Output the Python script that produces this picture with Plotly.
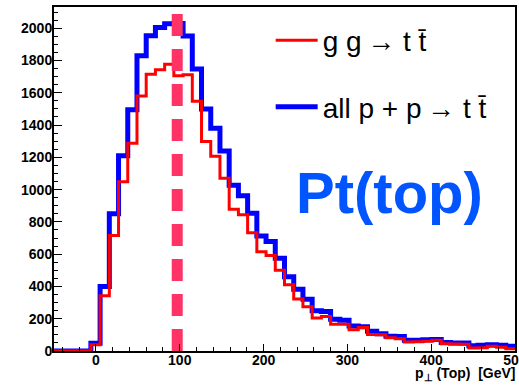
import numpy as np
import plotly.graph_objects as go

# 50 bins of 11 GeV from -50 to 500 GeV
bin_edges = np.linspace(-50, 500, 51)

# top-quark transverse momentum spectra (events per bin)
all_pp = [0, 0, 0, 0, 48, 400, 850, 1210, 1495, 1830,
          1953, 2005, 2027, 2030, 1952, 1748, 1500, 1380, 1240, 1027,
          962, 853, 712, 678, 575, 460, 383, 320, 250, 245,
          196, 190, 155, 150, 122, 107, 92, 90, 66, 66,
          70, 72, 53, 50, 50, 33, 35, 39, 36, 29]
gg_only = [0, 0, 0, 0, 38, 342, 715, 1048, 1288, 1580,
           1715, 1742, 1777, 1705, 1711, 1547, 1298, 1207, 1070, 878,
           844, 733, 615, 592, 500, 410, 322, 274, 205, 214,
           166, 166, 131, 145, 103, 100, 82, 76, 56, 58,
           60, 66, 45, 43, 42, 19, 20, 29, 23, 14]

marker_pt = 97          # GeV, vertical reference line
y_max = 1.05 * max(all_pp)

label_gg = "g g\u2009\u2192 t t\u0304"
label_all = "all p + p\u2009\u2192 t t\u0304"


def step_xy(values):
    return list(bin_edges), list(values) + [values[-1]]


fig = go.Figure()

x_b, y_b = step_xy(all_pp)
fig.add_trace(go.Scatter(x=x_b, y=y_b, mode="lines", line_shape="hv",
                         line=dict(color="#0000ff", width=5),
                         name=label_all, legendgroup="b", legendrank=2))
x_r, y_r = step_xy(gg_only)
fig.add_trace(go.Scatter(x=x_r, y=y_r, mode="lines", line_shape="hv",
                         line=dict(color="#ff0000", width=3),
                         name=label_gg, legendgroup="a", legendrank=1))
fig.add_trace(go.Scatter(x=[marker_pt, marker_pt], y=[0, y_max], mode="lines",
                         line=dict(color="rgb(255,51,102)", width=11, dash="22px,13px"),
                         showlegend=False, hoverinfo="skip"))

tick_font = dict(family="Liberation Sans, Arial, sans-serif", size=14,
                 color="black", weight="bold")

fig.update_layout(
    width=519, height=389,
    margin=dict(l=54, r=4, t=7, b=38),
    paper_bgcolor="white", plot_bgcolor="white",
    showlegend=True,
    legend=dict(x=0.47, y=0.975, xanchor="left", yanchor="top",
                bgcolor="rgba(0,0,0,0)", borderwidth=0,
                font=dict(family="Liberation Sans, Arial, sans-serif", size=28, color="black"),
                tracegroupgap=27, traceorder="grouped", itemwidth=42),
    xaxis=dict(range=[-50, 500], tickvals=[0, 100, 200, 300, 400, 500],
               ticks="inside", ticklen=7, tickwidth=1, tickcolor="black",
               minor=dict(dtick=20, tick0=0, ticks="inside", ticklen=4, tickcolor="black"),
               showgrid=False, zeroline=False, showline=True, linecolor="black",
               linewidth=2, mirror=True, tickfont=tick_font, automargin=False,
               ticklabeloverflow="allow", ticklabelstandoff=-5),
    yaxis=dict(range=[0, y_max], tickvals=list(range(0, 2001, 200)),
               ticks="inside", ticklen=8, tickwidth=1, tickcolor="black",
               minor=dict(dtick=50, tick0=0, ticks="inside", ticklen=4, tickcolor="black"),
               showgrid=False, zeroline=False, showline=True, linecolor="black",
               linewidth=2, mirror=True, tickfont=tick_font, automargin=False,
               ticklabelstandoff=-3),
)

fig.add_annotation(text="Pt(top)", xref="paper", yref="paper",
                   x=0.52, y=0.462, xanchor="left", yanchor="middle", showarrow=False,
                   font=dict(family="Liberation Sans, Arial, sans-serif", size=58,
                             color="rgb(0,85,255)", weight="bold"))
fig.add_annotation(text="p<sub>\u22a5</sub> (Top)&nbsp;&nbsp;[GeV]", xref="paper", yref="paper",
                   x=1.006, y=-0.035, xanchor="right", yanchor="top", showarrow=False,
                   font=dict(family="Liberation Sans, Arial, sans-serif", size=14,
                             color="black", weight="bold"))

fig.write_html("out.html")
